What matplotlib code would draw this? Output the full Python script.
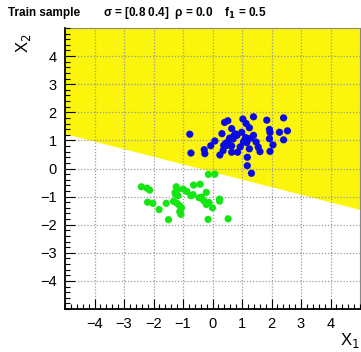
import numpy as np
import matplotlib
matplotlib.use("Agg")
import matplotlib.pyplot as plt
from matplotlib.ticker import MultipleLocator

plt.rcParams['font.family'] = ['Liberation Sans', 'DejaVu Sans']

# Signal (blue) sample
blue_x = [-0.77, -0.73, -0.28, -0.26, -0.06, 0.08, 0.25, 0.32, 0.36, 0.41, 0.52, 0.45, 0.49,
          0.56, 0.65, 0.65, 0.65, 0.72, 0.78, 0.83, 0.85, 0.94, 0.99, 1.03, 1.05, 1.12, 1.14,
          1.16, 1.18, 1.18, 1.25, 1.25, 1.30, 1.32, 1.39, 1.39, 1.48, 1.55, 1.61, 1.84, 1.93,
          1.95, 1.93, 1.95, 2.05, 2.27, 2.41, 2.41, 2.54, 0.38, 0.58, 1.08, 1.20, 0.70]
blue_y = [1.22, 0.55, 0.67, 0.53, 0.81, 0.98, 0.48, 1.24, 0.64, 1.64, 1.70, 0.90, 0.82,
          1.00, 1.42, 0.80, 0.58, 1.16, 1.23, 1.18, 0.58, 0.77, 1.29, 1.76, 0.94, 1.10, 1.60,
          0.92, 0.40, 0.10, 1.45, 0.70, 1.08, -0.17, 1.84, 1.18, 0.94, 0.76, 0.60, 1.72, 1.39,
          1.28, 1.06, 0.61, 0.84, 1.29, 1.80, 1.02, 1.34, 0.82, 1.08, 1.00, 1.05, 1.05]

# Background (green) sample
green_x = [-2.41, -2.22, -2.13, -2.20, -2.02, -1.81, -1.57, -1.49, -1.32, -1.27, -1.23, -1.20,
           -1.25, -1.17, -1.20, -1.11, -1.11, -1.07, -1.05, -1.00, -0.87, -0.73, -0.66, -0.64,
           -0.42, -0.46, -0.37, -0.30, -0.21, -0.21, -0.12, 0.00, 0.24, 0.24, -0.15, 0.53,
           -0.14, 0.08]
green_y = [-0.65, -0.70, -0.77, -1.20, -1.24, -1.46, -1.24, -1.82, -1.17, -0.85, -0.65, -0.77,
           -0.92, -0.97, -1.24, -1.33, -1.54, -1.63, -1.40, -0.73, -0.82, -0.97, -0.93, -0.59,
           -0.56, -1.04, -1.02, -1.14, -0.85, -1.28, -1.21, -1.40, -1.09, -1.16, -1.81, -1.79,
           -0.21, -0.20]

# Decision boundary
boundary_x = [-5.0, 5.0]
boundary_y = [1.24, -1.46]

tick_vals = [-4, -3, -2, -1, 0, 1, 2, 3, 4]
tick_labels = ['\u22124', '\u22123', '\u22122', '\u22121', '0', '1', '2', '3', '4']

fig = plt.figure(figsize=(3.61, 3.52), dpi=100)
ax = fig.add_axes([65/361, 1 - 309/352, 295/361, (309 - 28)/352])

ax.fill_between(boundary_x, boundary_y, [5, 5], color='#FAF50A', lw=0, zorder=0)
ax.set_xlim(-5, 5)
ax.set_ylim(-5, 5)

ax.grid(True, color='#999999', linestyle=(0, (1, 1.5)), linewidth=0.9, zorder=1)
ax.set_axisbelow(False)

ax.scatter(blue_x, blue_y, s=27, color='#0A0AE6', edgecolors='none', zorder=3)
ax.scatter(green_x, green_y, s=27, color='#14E614', edgecolors='none', zorder=3)

ax.set_xticks(tick_vals)
ax.set_xticklabels(tick_labels)
ax.set_yticks(tick_vals)
ax.set_yticklabels(tick_labels)
ax.xaxis.set_minor_locator(MultipleLocator(0.2))
ax.yaxis.set_minor_locator(MultipleLocator(0.2))
ax.tick_params(which='both', direction='in', top=False, right=False, labelsize=10.5)
ax.tick_params(which='major', length=7, width=0.8)
ax.tick_params(which='minor', length=3.5, width=0.8)
ax.tick_params(axis='x', pad=6)
ax.tick_params(axis='y', pad=6)
for s in ['left', 'bottom']:
    ax.spines[s].set_linewidth(1.3)
for s in ['top', 'right']:
    ax.spines[s].set_linewidth(0.8)
    ax.spines[s].set_color('#888888')

fig.text(340/361, 1 - 345/352, 'X$_1$', fontsize=12, ha='left', va='baseline')
fig.text(14/361, 1 - 48/352, 'X$_2$', fontsize=12, ha='left', va='baseline', rotation=90)
fig.text(8/361, 1 - 16/352, 'Train sample', fontsize=8.5, fontweight='bold', ha='left', va='baseline')
fig.text(103/361, 1 - 16/352, '\u03c3 = [0.8 0.4]  \u03c1 = 0.0    f$_\\mathbf{1}$ = 0.5', fontsize=8.5,
         fontweight='bold', ha='left', va='baseline')

fig.savefig('out.png', dpi=100)
